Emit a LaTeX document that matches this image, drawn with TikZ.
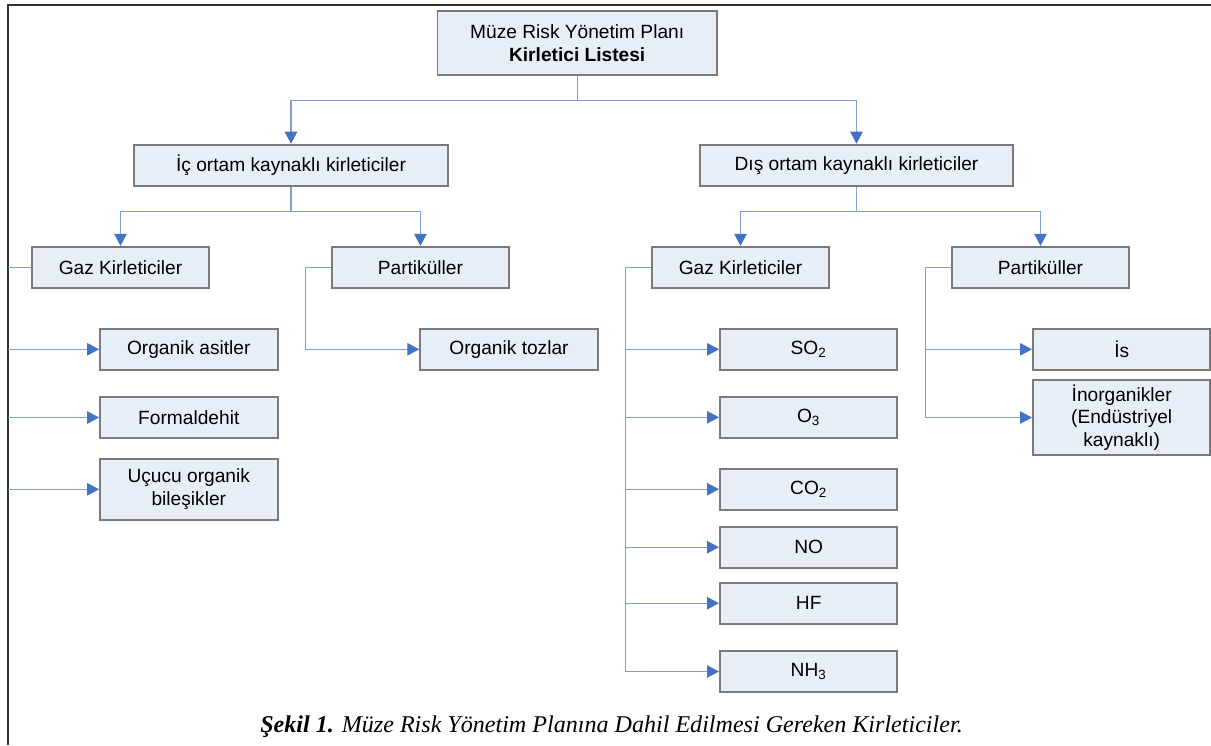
\documentclass[tikz,border=0pt]{standalone}
\usepackage{fontspec}
\setmainfont{Liberation Serif}
\newfontfamily\boxfont{Liberation Sans}
\usetikzlibrary{arrows.meta}
\definecolor{boxfill}{HTML}{E8EEF7}
\definecolor{boxline}{HTML}{7A7A7A}
\definecolor{linkblue}{HTML}{7C9ED9}
\definecolor{tipblue}{HTML}{4472C4}
\definecolor{framegray}{HTML}{333333}
\tikzset{
  box/.style={draw=boxline, line width=1.1pt, fill=boxfill, align=center, inner sep=0pt,
    minimum width=3.55cm, minimum height=0.82cm, font=\boxfont\fontsize{10.9}{12.9}\selectfont},
  widebox/.style={box, minimum width=6.27cm},
  link/.style={draw=linkblue, line width=0.6pt},
  linkarrow/.style={link, -{Triangle[width=0.25cm,length=0.24cm,color=tipblue]}}
}
\begin{document}
\begin{tikzpicture}[x=0.02cm, y=-0.02cm]
\useasboundingbox (0,0) rectangle (1211,745);
\draw[framegray, line width=0.8pt] (8,745) -- (8,5) -- (1211,5);
\node[box, minimum width=5.59cm, minimum height=1.28cm] (plan) at (577.2,43) {Müze Risk Yönetim Planı\\\textbf{Kirletici Listesi}};
\node[widebox] (ic) at (291,165.2) {İç ortam kaynaklı kirleticiler};
\node[widebox] (dis) at (856.5,165.2) {Dış ortam kaynaklı kirleticiler};
\node[box] (icgaz) at (120.5,267.3) {Gaz Kirleticiler};
\node[box] (icpar) at (420.4,267.3) {Partiküller};
\node[box] (disgaz) at (740.5,267.3) {Gaz Kirleticiler};
\node[box] (dispar) at (1040.5,267.3) {Partiküller};
\node[box] (asit) at (188.8,349.3) {Organik asitler};
\node[box] (formal) at (188.8,417.5) {Formaldehit};
\node[box, minimum height=1.23cm] (ucucu) at (188.8,489.3) {Uçucu organik\\bileşikler};
\node[box] (toz) at (509,349.3) {Organik tozlar};
\node[box] (so) at (808.7,349.3) {SO\textsubscript{2}};
\node[box] (ozon) at (808.7,417.3) {O\textsubscript{3}};
\node[box] (co) at (808.7,489.2) {CO\textsubscript{2}};
\node[box] (no) at (808.7,547.2) {NO};
\node[box] (hf) at (808.7,603.2) {HF};
\node[box] (nh) at (808.7,671.5) {NH\textsubscript{3}};
\node[box] (is) at (1121.7,349.3) {İs};
\node[box, minimum height=1.5cm] (inorg) at (1121.7,417.5) {İnorganikler\\(Endüstriyel\\kaynaklı)};
\draw[linkarrow] (plan.south) -- ++(0,25) -| (ic.north);
\draw[linkarrow] (plan.south) -- ++(0,25) -| (dis.north);
\draw[linkarrow] (ic.south) -- ++(0,25.3) -| (icgaz.north);
\draw[linkarrow] (ic.south) -- ++(0,25.3) -| (icpar.north);
\draw[linkarrow] (dis.south) -- ++(0,25.3) -| (disgaz.north);
\draw[linkarrow] (dis.south) -- ++(0,25.3) -| (dispar.north);
\coordinate (edge) at (8,267.3);
\draw[link] (icgaz.west) -- (edge);
\foreach \n in {asit,formal,ucucu} \draw[linkarrow] (edge |- \n.west) -- (\n.west);
\draw[linkarrow] (icpar.west) -- ++(-25.2,0) |- (toz.west);
\foreach \n in {so,ozon,co,no,hf,nh} \draw[linkarrow] (disgaz.west) -- ++(-25.3,0) |- (\n.west);
\foreach \n in {is,inorg} \draw[linkarrow] (dispar.west) -- ++(-25.3,0) |- (\n.west);
\node[anchor=base, font=\fontsize{13.7}{16}\selectfont\itshape] (caption) at (611.5,732) {\textbf{Şekil 1.} Müze Risk Yönetim Planına Dahil Edilmesi Gereken Kirleticiler.};
\end{tikzpicture}
\end{document}
